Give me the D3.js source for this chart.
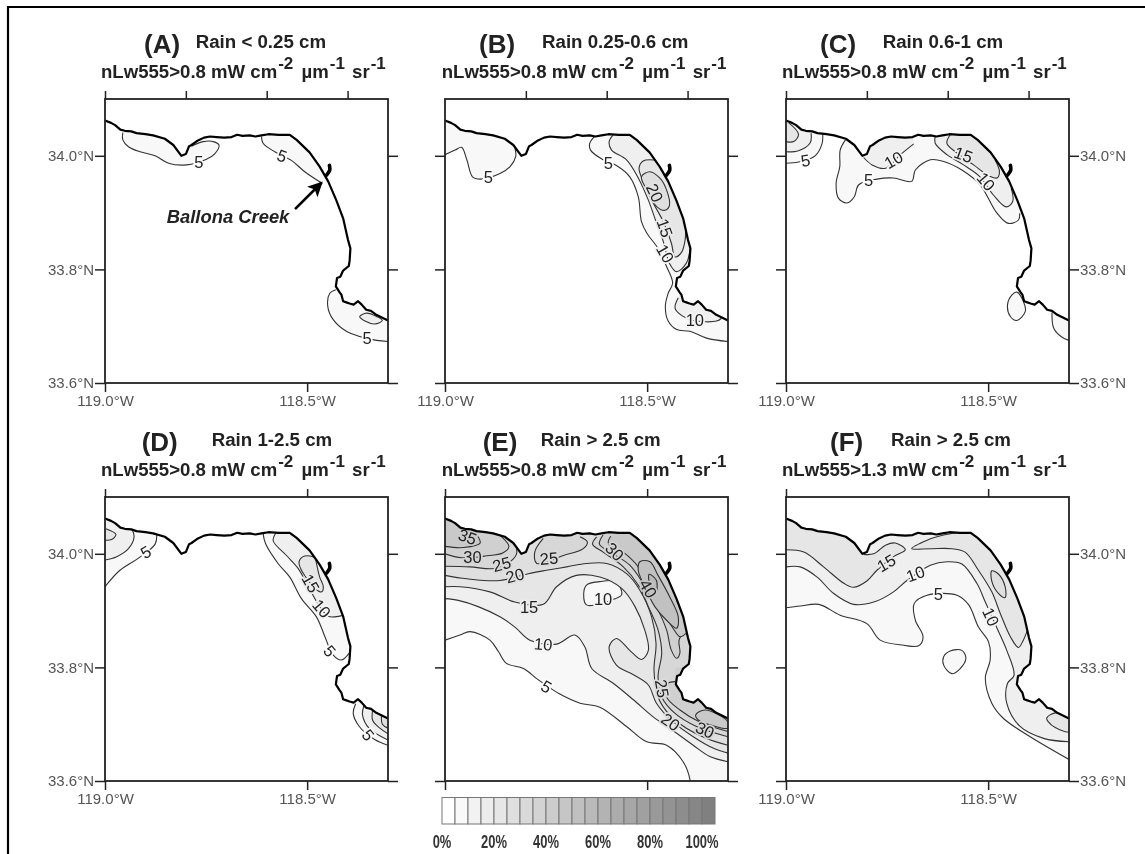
<!DOCTYPE html>
<html>
<head>
<meta charset="utf-8">
<script src="https://cdn.jsdelivr.net/npm/d3@7"></script>
<style>
  html, body { margin: 0; padding: 0; background: #fff; }
  svg { display: block; filter: blur(0.35px); }
  text { font-family: "Liberation Sans", Arial, sans-serif; white-space: pre; }
</style>
</head>
<body>
<div id="chart"></div>
<script>
// all map data is degrees west, degrees north
var lonDomain = [119, 118.3];
var latDomain = [33.6, 34.1];
var lonTickLabels = [119, 118.5];
var latTickLabels = [34, 33.8, 33.6];

var letters = ["(A)", "(B)", "(C)", "(D)", "(E)", "(F)"];
var rainText = ["Rain < 0.25 cm", "Rain 0.25-0.6 cm", "Rain 0.6-1 cm", "Rain 1-2.5 cm", "Rain > 2.5 cm", "Rain > 2.5 cm"];
var thresholds = ["0.8", "0.8", "0.8", "0.8", "0.8", "1.3"];
var topTicks = [
  [119, 118.8, 118.6, 118.4], [118.8, 118.6, 118.4], [119, 118.8, 118.6, 118.4],
  [119, 118.5], [119, 118.5], [119, 118.5]
];

var coast = [[119,34.062],[118.985,34.058],[118.975,34.054],[118.962,34.046],[118.951,34.044],[118.935,34.043],[118.922,34.040],[118.900,34.038],[118.881,34.036],[118.852,34.030],
  [118.831,34.019],[118.811,34.000],[118.800,34.003],[118.792,34.017],[118.786,34.019],[118.770,34.027],[118.755,34.032],[118.740,34.034],[118.724,34.033],[118.705,34.032],[118.687,34.033],
  [118.673,34.037],[118.660,34.035],[118.642,34.036],[118.628,34.034],[118.613,34.036],[118.596,34.038],[118.570,34.037],[118.543,34.037],[118.526,34.028],[118.510,34.017],[118.494,34.006],
  [118.469,33.981],[118.448,33.955],[118.428,33.922],[118.411,33.890],[118.399,33.852],[118.393,33.837],[118.395,33.815],[118.397,33.806],
  [118.411,33.798],[118.418,33.787],[118.426,33.785],[118.429,33.770],[118.420,33.760],[118.415,33.755],[118.411,33.744],[118.403,33.742],[118.395,33.740],[118.385,33.738],[118.374,33.744],
  [118.365,33.738],[118.354,33.729],[118.342,33.727],[118.329,33.720],[118.300,33.710]];
var creek = [[118.445,33.983],[118.444,33.975],[118.452,33.966]];
var creekArrow = [[118.530,33.906],[118.464,33.953]];

// polygon closures that run over land or along the frame, everything gets clipped to the sea
var NE = [[118.29,34.12]];
var NW = [[118.8,34.12],[119.01,34.12]];
var WC = [[119.01,34.12]];
var SE = [[118.29,33.8],[118.41,33.8]];
var ALL = [[118.29,34.12],[119.01,34.12]];

// [level, points, closure], no closure means a closed loop
var contoursA = [
  [5, [[118.956,34.041],[118.956,34.028],[118.942,34.016],[118.913,34.007],[118.876,34.000],[118.843,33.987],[118.798,33.984],[118.749,33.994],[118.728,34.004],[118.718,34.019],[118.732,34.025],[118.757,34.025],[118.786,34.017]], NE],
  [5, [[118.613,34.034],[118.609,34.022],[118.580,34.007],[118.539,33.992],[118.506,33.972],[118.464,33.952]], NE],
  [5, [[118.429,33.764],[118.444,33.758],[118.449,33.735],[118.436,33.712],[118.403,33.691],[118.366,33.681],[118.328,33.675],[118.300,33.673]], SE],
  [10, [[118.370,33.717],[118.353,33.723],[118.328,33.717],[118.314,33.710],[118.333,33.704],[118.357,33.709]], null]
];
var labelsA = [["5",118.768,33.989,0],["5",118.562,34.000,20],["5",118.352,33.679,0]];

var contoursB = [
  [5, [[119,34.002],[118.975,34.010],[118.959,34.015],[118.946,33.993],[118.932,33.963],[118.913,33.959],[118.864,33.969],[118.839,33.981],[118.825,33.999],[118.827,34.013]], NW],
  [5, [[118.629,34.035],[118.642,34.022],[118.640,34.010],[118.609,33.993],[118.576,33.983],[118.543,33.963],[118.522,33.928],[118.514,33.884],[118.501,33.864],[118.473,33.837],[118.452,33.805],[118.437,33.776],[118.448,33.758],[118.455,33.735],[118.448,33.709],[118.427,33.694],[118.394,33.691],[118.353,33.679],[118.300,33.673]], NE],
  [10, [[118.584,34.037],[118.594,34.025],[118.588,34.010],[118.551,33.993],[118.522,33.961],[118.497,33.922],[118.478,33.884],[118.460,33.849],[118.445,33.811],[118.427,33.796],[118.403,33.811],[118.393,33.840]], NE],
  [10, [[118.423,33.750],[118.431,33.732],[118.415,33.719],[118.386,33.710],[118.328,33.709],[118.316,33.714]], SE],
  [15, [[118.473,33.992],[118.510,33.991],[118.520,33.978],[118.506,33.949],[118.485,33.917],[118.460,33.884],[118.440,33.846],[118.431,33.822],[118.415,33.830],[118.406,33.852],[118.405,33.884]], NE],
  [20, [[118.493,33.972],[118.514,33.963],[118.500,33.939],[118.477,33.911],[118.456,33.904],[118.445,33.912],[118.452,33.940],[118.469,33.961]], null]
];
var labelsB = [["5",118.893,33.963,0],["5",118.596,33.988,0],["20",118.481,33.935,65],["15",118.456,33.873,70],["10",118.455,33.828,60],["10",118.382,33.711,0]];

var contoursC = [
  [5, [[118.909,34.037],[118.911,34.021],[118.928,34.000],[118.969,33.989],[119,33.987]], WC],
  [5, [[118.853,34.028],[118.866,34.010],[118.867,33.981],[118.876,33.952],[118.870,33.925],[118.849,33.917],[118.831,33.928],[118.820,33.949],[118.775,33.959],[118.734,33.961],[118.689,33.955],[118.680,33.975],[118.643,33.993],[118.610,33.990],[118.565,33.975],[118.520,33.949],[118.478,33.899],[118.450,33.881],[118.425,33.887],[118.422,33.899]], NE],
  [5, [[118.429,33.760],[118.413,33.744],[118.408,33.726],[118.429,33.710],[118.445,33.717],[118.452,33.738],[118.441,33.755]], null],
  [5, [[118.342,33.724],[118.338,33.697],[118.318,33.681],[118.300,33.675]], [[118.29,33.8],[118.34,33.8]]],
  [10, [[118.938,34.040],[118.940,34.023],[118.969,34.009],[119,34.007]], WC],
  [10, [[118.808,33.997],[118.787,33.984],[118.754,33.978],[118.717,34.002],[118.684,34.021]], [[118.69,34.12],[118.80,34.12]]],
  [10, [[118.631,34.034],[118.631,34.022],[118.602,34.002],[118.561,33.984],[118.520,33.963],[118.487,33.931],[118.455,33.910],[118.439,33.920],[118.443,33.943]], NE],
  [15, [[118.993,34.058],[118.969,34.038],[118.981,34.025],[119,34.025]], WC],
  [15, [[118.594,34.037],[118.602,34.022],[118.577,34.005],[118.536,33.984],[118.499,33.965],[118.478,33.961],[118.472,33.972],[118.483,33.993]], NE]
];
var labelsC = [["5",118.952,33.992,-10],["10",118.734,33.993,-30],["5",118.796,33.958,0],["15",118.561,34.002,20],["10",118.505,33.955,50]];

var contoursD = [
  [5, [[118.872,34.034],[118.876,34.017],[118.918,33.992],[118.963,33.971],[119,33.942]], WC],
  [5, [[118.609,34.036],[118.603,34.018],[118.572,33.983],[118.543,33.959],[118.514,33.921],[118.477,33.889],[118.456,33.854],[118.436,33.822],[118.415,33.813],[118.396,33.825]], NE],
  [5, [[118.380,33.736],[118.386,33.719],[118.371,33.696],[118.333,33.673],[118.300,33.663]], [[118.29,33.8],[118.38,33.8]]],
  [10, [[118.934,34.044],[118.928,34.030],[118.942,34.009],[118.971,33.995],[119,33.989]], WC],
  [10, [[118.577,34.037],[118.584,34.023],[118.551,33.997],[118.522,33.974],[118.497,33.942],[118.469,33.907],[118.448,33.890],[118.431,33.889],[118.410,33.892]], NE],
  [10, [[118.360,33.732],[118.363,33.716],[118.347,33.693],[118.300,33.672]], [[118.29,33.8],[118.36,33.8]]],
  [15, [[118.998,34.044],[118.973,34.034],[118.984,34.025],[119,34.024]], WC],
  [15, [[118.481,33.993],[118.506,33.996],[118.520,33.986],[118.514,33.971],[118.497,33.953],[118.481,33.939],[118.464,33.933],[118.460,33.942],[118.469,33.959],[118.477,33.983]], null],
  [15, [[118.338,33.725],[118.338,33.707],[118.320,33.693],[118.300,33.683]], [[118.29,33.8],[118.34,33.8]]],
  [20, [[118.316,33.716],[118.314,33.700],[118.300,33.693]], [[118.29,33.8],[118.32,33.8]]]
];
var labelsD = [["5",118.899,34.003,-30],["15",118.491,33.948,60],["10",118.464,33.904,50],["5",118.444,33.829,50],["5",118.349,33.681,50]];

var contoursE = [
  [5, [[119,33.848],[118.963,33.857],[118.938,33.863],[118.889,33.848],[118.868,33.828],[118.848,33.807],[118.806,33.798],[118.769,33.778],[118.716,33.753],[118.666,33.737],[118.617,33.730],[118.551,33.696],[118.501,33.669],[118.452,33.663],[118.411,33.634],[118.394,33.602],[118.394,33.59],[118.29,33.59]], ALL],
  [10, [[119,33.921],[118.967,33.918],[118.918,33.907],[118.864,33.889],[118.827,33.871],[118.790,33.848],[118.724,33.841],[118.679,33.857],[118.654,33.836],[118.637,33.798],[118.584,33.772],[118.534,33.743],[118.485,33.713],[118.444,33.693],[118.386,33.663],[118.345,33.643],[118.300,33.634]], ALL],
  [5, [[118.650,33.945],[118.617,33.951],[118.577,33.951],[118.563,33.928],[118.586,33.919],[118.627,33.910],[118.650,33.910],[118.657,33.928]], null],
  [15, [[119,33.942],[118.963,33.942],[118.889,33.933],[118.827,33.915],[118.757,33.911],[118.724,33.942],[118.675,33.962],[118.617,33.959],[118.563,33.939],[118.530,33.907],[118.506,33.866],[118.497,33.830],[118.514,33.814],[118.543,33.830],[118.576,33.851],[118.594,33.836],[118.576,33.804],[118.534,33.787],[118.497,33.769],[118.477,33.737],[118.436,33.704],[118.386,33.678],[118.337,33.658],[118.300,33.649]], ALL],
  [20, [[119,33.962],[118.946,33.956],[118.864,33.953],[118.794,33.965],[118.749,33.971],[118.699,33.977],[118.650,33.983],[118.600,33.983],[118.551,33.965],[118.518,33.936],[118.489,33.889],[118.478,33.842],[118.483,33.795],[118.473,33.748],[118.444,33.716],[118.403,33.693],[118.353,33.675],[118.300,33.663]], ALL],
  [25, [[119,33.978],[118.938,33.977],[118.880,33.974],[118.843,33.984],[118.823,34.000],[118.825,34.015]], NW],
  [25, [[118.757,34.027],[118.778,34.003],[118.773,33.983],[118.707,33.997],[118.658,34.009],[118.648,34.021],[118.666,34.030]], [[118.66,34.12],[118.76,34.12]]],
  [25, [[118.625,34.030],[118.635,34.017],[118.609,34.003],[118.559,33.977],[118.522,33.945],[118.497,33.907],[118.473,33.866],[118.464,33.825],[118.473,33.784],[118.464,33.748],[118.431,33.719],[118.378,33.696],[118.300,33.678]], NE],
  [30, [[119,34.000],[118.959,33.993],[118.901,33.996],[118.856,34.002],[118.842,34.013],[118.860,34.030],[118.872,34.036]], NW],
  [30, [[118.609,34.033],[118.618,34.017],[118.584,34.000],[118.543,33.980],[118.510,33.948],[118.477,33.907],[118.452,33.866],[118.440,33.830],[118.427,33.816],[118.419,33.825],[118.421,33.848],[118.405,33.866]], NE],
  [30, [[118.431,33.775],[118.448,33.772],[118.452,33.748],[118.419,33.725],[118.370,33.704],[118.300,33.687]], [[118.29,33.8],[118.43,33.8]]],
  [35, [[119,34.013],[118.955,34.011],[118.913,34.019],[118.926,34.038]], WC],
  [35, [[118.590,34.031],[118.596,34.019],[118.559,34.003],[118.522,33.977],[118.497,33.942],[118.464,33.901],[118.436,33.869],[118.419,33.854],[118.404,33.860]], NE],
  [35, [[118.380,33.716],[118.357,33.725],[118.300,33.704],[118.300,33.693],[118.345,33.699],[118.371,33.706]], null],
  [40, [[118.518,33.986],[118.493,33.986],[118.473,33.962],[118.444,33.924],[118.423,33.889],[118.427,33.869],[118.452,33.883],[118.481,33.907],[118.510,33.948],[118.522,33.971]], null],
  [45, [[118.495,33.964],[118.477,33.953],[118.478,33.933],[118.493,33.945]], null]
];
var labelsE = [["35",118.944,34.030,20],["30",118.932,33.995,0],["25",118.860,33.982,-15],["20",118.827,33.962,-15],["25",118.743,33.992,-5],["30",118.580,34.004,45],["40",118.497,33.939,60],["15",118.792,33.907,0],["10",118.609,33.921,0],["10",118.757,33.841,5],["5",118.749,33.766,30],["25",118.463,33.763,80],["20",118.442,33.704,35],["30",118.357,33.690,25]];

var contoursF = [
  [5, [[119,33.905],[118.965,33.908],[118.919,33.911],[118.866,33.892],[118.800,33.877],[118.767,33.848],[118.709,33.839],[118.672,33.838],[118.661,33.854],[118.680,33.883],[118.683,33.912],[118.651,33.927],[118.577,33.927],[118.548,33.910],[118.524,33.871],[118.499,33.845],[118.495,33.813],[118.507,33.781],[118.491,33.737],[118.462,33.710],[118.396,33.678],[118.300,33.638]], ALL],
  [5, [[118.594,33.829],[118.565,33.830],[118.555,33.816],[118.569,33.798],[118.590,33.789],[118.610,33.804],[118.610,33.819]], null],
  [10, [[119,33.977],[118.965,33.977],[118.923,33.959],[118.882,33.930],[118.833,33.911],[118.783,33.915],[118.734,33.933],[118.701,33.953],[118.643,33.980],[118.602,33.986],[118.565,33.982],[118.528,33.948],[118.507,33.915],[118.478,33.869],[118.454,33.830],[118.436,33.786],[118.452,33.772],[118.454,33.737],[118.421,33.696],[118.363,33.675],[118.300,33.669]], ALL],
  [15, [[119,34.007],[118.956,34.003],[118.907,33.977],[118.857,33.948],[118.833,33.941],[118.800,33.952],[118.775,33.971],[118.734,33.995],[118.705,34.007],[118.730,34.019],[118.754,34.015],[118.783,34.000],[118.808,33.999]], NW],
  [15, [[118.577,34.037],[118.610,34.033],[118.651,34.024],[118.689,34.009],[118.643,34.009],[118.590,34.009],[118.557,34.003],[118.524,33.971],[118.491,33.933],[118.470,33.895],[118.445,33.854],[118.425,33.835],[118.413,33.848],[118.400,33.871]], NE],
  [15, [[118.355,33.711],[118.334,33.720],[118.300,33.713],[118.300,33.687],[118.334,33.694],[118.351,33.704]], null],
  [20, [[118.491,33.970],[118.474,33.964],[118.458,33.942],[118.458,33.923],[118.474,33.930],[118.491,33.952]], null]
];
var labelsF = [["15",118.752,33.984,-30],["10",118.680,33.965,-20],["5",118.623,33.930,0],["10",118.493,33.889,65]];

var allContours = [contoursA, contoursB, contoursC, contoursD, contoursE, contoursF];
var allLabels = [labelsA, labelsB, labelsC, labelsD, labelsE, labelsF];

var legendSteps = [0,5,10,15,20,25,30,35,40,45,50,55,60,65,70,75,80,85,90,95,100];
var legendTicks = [0, 20, 40, 60, 80, 100];

// layout
var W = 1145, H = 854;
var mapW = 283, mapH = 284;
var lefts = [105, 445, 786, 105, 445, 786];
var tops = [99, 99, 99, 497, 497, 497];
var letterX = [144, 479, 820, 141.7, 482.7, 830];
var rainX = [195.7, 542, 882.7, 211.7, 540.7, 891];
var unitX = [101, 441.7, 782, 101, 441.7, 782];

var levelColor = d3.scaleLinear().domain([0, 5, 15, 45]).range(["#ffffff", "#f8f8f8", "#e6e6e6", "#bababa"]);
var legendColor = d3.scaleLinear().domain([0, 100]).range(["#ffffff", "#808080"]);

var svg = d3.select("#chart").append("svg").attr("width", W).attr("height", H);
svg.append("rect").attr("width", W).attr("height", H).attr("fill", "#fff");

// the page border, only top and left exist in the figure
svg.append("path").attr("d", "M8,854V7H1145").attr("fill", "none").attr("stroke", "#000").attr("stroke-width", 2.2);

var defs = svg.append("defs");
defs.append("marker").attr("id", "arrowhead").attr("viewBox", "0 0 10 10").attr("refX", 9).attr("refY", 5)
  .attr("markerWidth", 15).attr("markerHeight", 15).attr("markerUnits", "userSpaceOnUse").attr("orient", "auto")
  .append("path").attr("d", "M0,0L10,5L0,10L2.5,5Z").attr("fill", "#000");

function drawPanel(i) {
  var x = d3.scaleLinear().domain(lonDomain).range([0, mapW]);
  var y = d3.scaleLinear().domain(latDomain).range([mapH, 0]);
  var g = svg.append("g").attr("transform", "translate(" + lefts[i] + "," + tops[i] + ")");

  var smooth = d3.line().x(function(d) { return x(d[0]); }).y(function(d) { return y(d[1]); }).curve(d3.curveCatmullRom.alpha(0.5));
  var smoothLoop = d3.line().x(function(d) { return x(d[0]); }).y(function(d) { return y(d[1]); }).curve(d3.curveCatmullRomClosed.alpha(0.5));
  var straight = d3.line().x(function(d) { return x(d[0]); }).y(function(d) { return y(d[1]); });

  var sea = coast.concat([[118.3, 33.6], [119, 33.6]]);
  defs.append("clipPath").attr("id", "sea" + i).append("path").attr("d", straight(sea) + "Z");

  var map = g.append("g").attr("clip-path", "url(#sea" + i + ")");
  allContours[i].forEach(function(c) {
    var level = c[0], pts = c[1], closure = c[2];
    var d;
    if (closure) {
      d = smooth(pts) + closure.map(function(p) { return "L" + x(p[0]) + "," + y(p[1]); }).join("") + "Z";
    } else {
      d = smoothLoop(pts);
    }
    map.append("path").attr("d", d).attr("fill", levelColor(level));
    map.append("path").attr("d", closure ? smooth(pts) : smoothLoop(pts))
      .attr("fill", "none").attr("stroke", "#333").attr("stroke-width", 1.1);
  });

  // contour numbers break the line with a halo in the local grey
  allLabels[i].forEach(function(l) {
    g.append("text")
      .attr("transform", "translate(" + x(l[1]) + "," + y(l[2]) + ") rotate(" + l[3] + ")")
      .attr("text-anchor", "middle").attr("dy", "0.36em")
      .attr("font-size", 16.5).attr("fill", "#222")
      .attr("stroke", levelColor(+l[0] - 2.5)).attr("stroke-width", 3.5).attr("paint-order", "stroke")
      .text(l[0]);
  });

  g.append("path").attr("d", straight(coast)).attr("fill", "none").attr("stroke", "#000").attr("stroke-width", 2.2).attr("stroke-linejoin", "round");
  g.append("path").attr("d", smooth(creek)).attr("fill", "none").attr("stroke", "#000").attr("stroke-width", 3.6).attr("stroke-linecap", "round");

  // axes, labels only on the outer sides of the figure
  var fmtLat = function(d) { return d.toFixed(1) + "°N"; };
  var fmtLon = function(d) { return d.toFixed(1) + "°W"; };
  var none = function() { return ""; };
  var showLeft = i === 0 || i === 3, showRight = i === 2 || i === 5, showBottom = i !== 4;

  g.append("g").call(d3.axisLeft(y).tickValues(latTickLabels).tickSizeInner(10).tickSizeOuter(0).tickPadding(1).tickFormat(showLeft ? fmtLat : none)).attr("class", "ax");
  g.append("g").attr("transform", "translate(" + mapW + ",0)")
    .call(d3.axisRight(y).tickValues(latTickLabels).tickSizeInner(10).tickSizeOuter(0).tickPadding(1).tickFormat(showRight ? fmtLat : none)).attr("class", "ax");
  g.append("g").attr("transform", "translate(0," + mapH + ")")
    .call(d3.axisBottom(x).tickValues(lonTickLabels).tickSizeInner(9).tickSizeOuter(0).tickPadding(3).tickFormat(showBottom ? fmtLon : none)).attr("class", "ax");
  g.append("g").call(d3.axisTop(x).tickValues(topTicks[i]).tickSizeInner(8).tickSizeOuter(0).tickFormat(none)).attr("class", "ax");

  g.selectAll(".ax .domain").remove();
  g.selectAll(".ax line").attr("stroke", "#222").attr("stroke-width", 1.5);
  g.selectAll(".ax text").attr("font-size", 15).attr("font-family", '"Liberation Sans", Arial, sans-serif').attr("fill", "#555");

  g.append("rect").attr("width", mapW).attr("height", mapH).attr("fill", "none").attr("stroke", "#222").attr("stroke-width", 1.8);

  // titles
  var letterY = tops[i] - 46, rainY = tops[i] - 51.5, unitY = tops[i] - 21;
  svg.append("text").attr("x", letterX[i]).attr("y", letterY).attr("font-size", 26).attr("font-weight", "bold").attr("fill", "#222").text(letters[i]);
  svg.append("text").attr("x", rainX[i]).attr("y", rainY).attr("font-size", 18.7).attr("font-weight", "bold").attr("fill", "#222").text(rainText[i]);

  var unit = svg.append("text").attr("x", unitX[i]).attr("y", unitY).attr("font-size", 18.6).attr("font-weight", "bold").attr("fill", "#222");
  unit.append("tspan").text("nLw555>" + thresholds[i] + " mW cm");
  unit.append("tspan").attr("dy", -9).attr("dx", 1).attr("font-size", 17).text("-2");
  unit.append("tspan").attr("dy", 9).attr("dx", 3).text(" µm");
  unit.append("tspan").attr("dy", -9).attr("dx", 1).attr("font-size", 17).text("-1");
  unit.append("tspan").attr("dy", 9).attr("dx", 2).text(" sr");
  unit.append("tspan").attr("dy", -9).attr("dx", 1).attr("font-size", 17).text("-1");

  if (i === 0) {
    g.append("path").attr("d", straight(creekArrow)).attr("fill", "none").attr("stroke", "#000").attr("stroke-width", 2.6).attr("marker-end", "url(#arrowhead)");
    svg.append("text").attr("x", 166.7).attr("y", 222.7).attr("font-size", 18.4).attr("font-weight", "bold").attr("font-style", "italic").attr("fill", "#222").text("Ballona Creek");
  }
}

letters.forEach(function(d, i) { drawPanel(i); });

// colour bar under panel E
var legendX = d3.scaleLinear().domain([0, 100]).range([442, 702]);
var legend = svg.append("g");
legend.selectAll("rect").data(legendSteps).enter().append("rect")
  .attr("x", function(d) { return legendX(d); })
  .attr("y", 797.5)
  .attr("width", legendX(5) - legendX(0))
  .attr("height", 26.5)
  .attr("fill", function(d) { return legendColor(d); })
  .attr("stroke", "#777").attr("stroke-width", 1);
legend.selectAll("text").data(legendTicks).enter().append("text")
  .attr("transform", function(d) { return "translate(" + legendX(d) + ",848) scale(0.72,1)"; })
  .attr("text-anchor", "middle").attr("font-size", 18).attr("font-weight", "bold").attr("fill", "#333")
  .text(function(d) { return d + "%"; });
</script>
</body>
</html>
